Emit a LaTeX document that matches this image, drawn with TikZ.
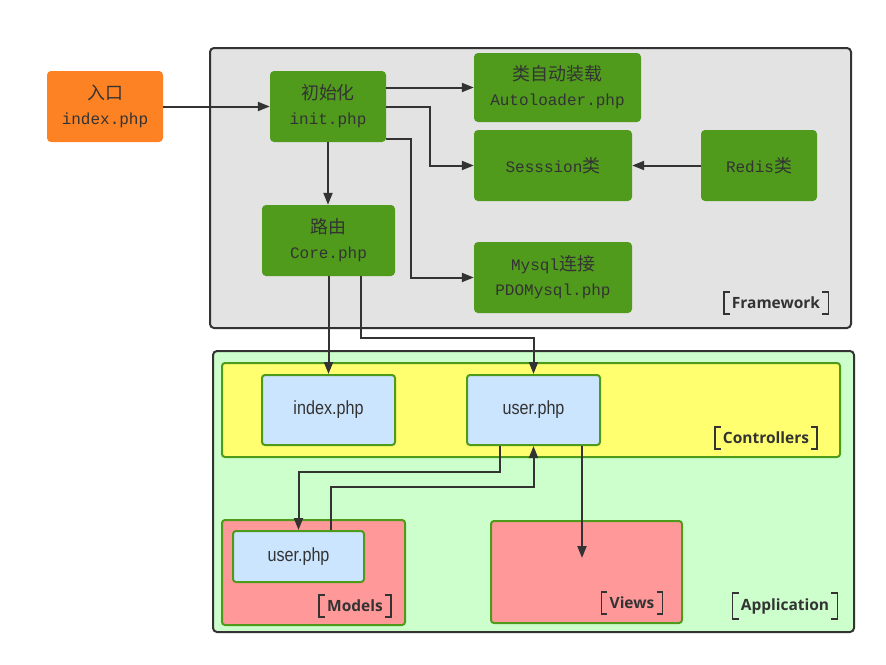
\documentclass[tikz,border=0pt]{standalone}
\usepackage{fontspec}
\setmainfont{Liberation Sans}
\newfontfamily\cjkfont[Scale=1.12]{Noto Sans CJK SC}
\newfontfamily\codefont{Liberation Mono}
\newfontfamily\filefont[FakeStretch=0.85]{Liberation Sans}
\newfontfamily\tagfont{Open Sans}
\usetikzlibrary{arrows.meta, positioning, calc}

\definecolor{ink}{HTML}{333333}
\definecolor{leaf}{HTML}{509A1C}
\definecolor{rim}{HTML}{4E9A1A}
\definecolor{fog}{HTML}{E3E3E3}
\definecolor{peel}{HTML}{FD8224}
\definecolor{mint}{HTML}{CCFFCC}
\definecolor{lemon}{HTML}{FFFF70}
\definecolor{sky}{HTML}{CCE5FF}
\definecolor{rose}{HTML}{FF9999}

\begin{document}
\begin{tikzpicture}[x=1pt, y=-1pt,
  frame/.style={rectangle, draw=ink, line width=2pt, rounded corners=4pt},
  grp/.style={rectangle, draw=rim, line width=2pt, rounded corners=3pt},
  box/.style={rectangle, rounded corners=4pt, fill=leaf, text=ink, align=center, font=\fontsize{16}{25}\selectfont\codefont},
  file/.style={rectangle, draw=rim, line width=2pt, rounded corners=3pt, fill=sky, text=ink, font=\fontsize{19}{22}\selectfont\filefont},
  tag/.style={font=\fontsize{15.5}{17}\selectfont\tagfont\bfseries, text=ink, inner xsep=8pt, inner ysep=5pt},
  bracket/.style={draw=ink, line width=1.6pt},
  arr/.style={draw=ink, line width=2pt, -{Triangle[length=12pt,width=9pt]}}
]
  \useasboundingbox (0,0) rectangle (886,664);

  % Framework
  \node[frame, fill=fog, minimum width=641, minimum height=280] (fw) at (530.5,188) {};
  \node[tag] (fwtag) at (776,303) {Framework};

  % Application
  \node[frame, fill=mint, minimum width=641, minimum height=281] (app) at (533.5,491.5) {};
  \node[grp, fill=lemon, minimum width=618, minimum height=94] (ctrl) at (531,410) {};
  \node[grp, fill=rose, minimum width=183, minimum height=105] (models) at (313.5,572.5) {};
  \node[grp, fill=rose, minimum width=191, minimum height=102] (views) at (586.5,572) {};
  \node[tag] (cttag) at (766,438) {Controllers};
  \node[tag] (mdtag) at (355,606) {Models};
  \node[tag] (vwtag) at (632,603) {Views};
  \node[tag] (aptag) at (785,606) {Application};

  % entry + framework boxes
  \node[box, fill=peel, minimum width=116, minimum height=71] (entry) at (105,106.5) {{\cjkfont 入口}\\index.php};
  \node[box, minimum width=116, minimum height=71] (init) at (328,106.5) {{\cjkfont 初始化}\\init.php};
  \node[box, minimum width=167, minimum height=69] (auto) at (557.5,87.5) {{\cjkfont 类自动装载}\\Autoloader.php};
  \node[box, minimum width=158, minimum height=71] (sess) at (553,165.5) {Sesssion{\cjkfont 类}};
  \node[box, minimum width=116, minimum height=71] (redis) at (759,165.5) {Redis{\cjkfont 类}};
  \node[box, minimum width=133, minimum height=71] (core) at (328.5,240.5) {{\cjkfont 路由}\\Core.php};
  \node[box, minimum width=158, minimum height=71] (mysql) at (553,277.5) {Mysql{\cjkfont 连接}\\PDOMysql.php};

  % application files
  \node[file, minimum width=133, minimum height=70] (cindex) at (328.5,410) {index.php};
  \node[file, minimum width=133, minimum height=70] (cuser) at (533.5,410) {user.php};
  \node[file, minimum width=131, minimum height=51] (muser) at (298.5,556.5) {user.php};
  \coordinate (vin) at (582,558);

  % brackets round the tags
  \foreach \t in {fwtag, cttag, mdtag, vwtag, aptag} {
    \draw[bracket] ([xshift=6]\t.north west) -- (\t.north west) -- (\t.south west) -- ([xshift=6]\t.south west);
    \draw[bracket] ([xshift=-6]\t.north east) -- (\t.north east) -- (\t.south east) -- ([xshift=-6]\t.south east);
  }

  % Arrows
  \draw[arr] (entry) -- (init);
  \draw[arr] (init.east |- auto.west) -- (auto.west);
  \draw[arr] (init.east) -- ++(44,0) |- (sess.west);
  \draw[arr] ($(init.south east)+(0,-3)$) -- ++(25,0) |- (mysql.west);
  \draw[arr] (init.south) -- (init.south |- core.north);
  \draw[arr] (redis) -- (sess);
  \draw[arr] (core.south) -- (cindex.north);
  \draw[arr] ($(core.south)+(32.5,0)$) -- ++(0,62) -| (cuser.north);
  \draw[arr] ($(cuser.south)+(-33.5,0)$) -- ++(0,26) -| (muser.north);
  \draw[arr] ($(muser.north)+(32.5,0)$) -- ++(0,-43) -| (cuser.south);
  \draw[arr] ($(cuser.south)+(48.5,0)$) -- (vin);
\end{tikzpicture}
\end{document}
